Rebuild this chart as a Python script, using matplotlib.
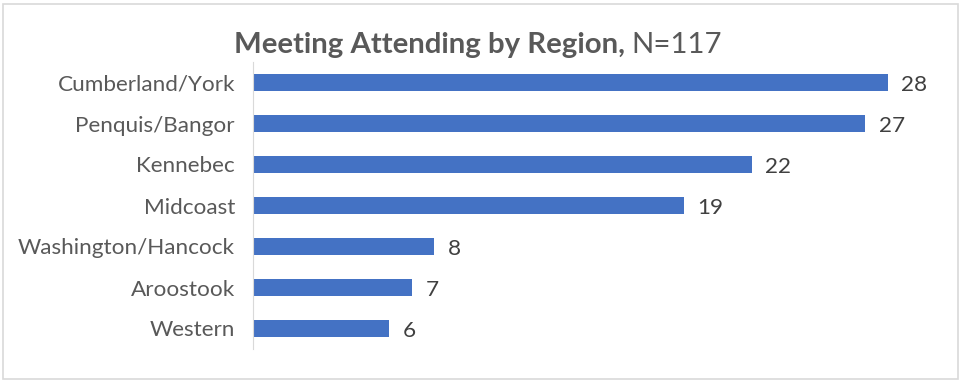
import matplotlib.pyplot as plt
from matplotlib.patches import Rectangle

regions = ["Cumberland/York", "Penquis/Bangor", "Kennebec", "Midcoast",
           "Washington/Hancock", "Aroostook", "Western"]
counts = [28, 27, 22, 19, 8, 7, 6]

plt.rcParams['font.family'] = ['Lato', 'DejaVu Sans']

fig = plt.figure(figsize=(9.63, 3.81), dpi=100)
ax = fig.add_axes([253 / 963, 1 - 349 / 381, 680 / 963, 287 / 381])

y = list(range(len(regions)))
ax.barh(y, counts, height=0.42, color="#4472C4")
ax.set_ylim(len(regions) - 0.5, -0.5)
ax.set_xlim(0, 30)
ax.set_yticks(y)
ax.set_yticklabels(regions, fontsize=16.2, color="#595959")
ax.tick_params(axis="y", length=0, pad=13)
ax.set_xticks([])
for s in ["top", "right", "bottom"]:
    ax.spines[s].set_visible(False)
ax.spines["left"].set_color("#D9D9D9")

for yi, v in zip(y, counts):
    ax.text(v + 0.6, yi + 0.05, str(v), va="center", ha="left", fontsize=16.2, color="#404040")

fig.text(625 / 963, 1 - 45 / 381, "Meeting Attending by Region,", ha="right", va="center",
         fontsize=21.2, fontweight="bold", color="#595959")
fig.text(631 / 963, 1 - 45 / 381, "N=117", ha="left", va="center",
         fontsize=21.2, color="#595959")

fig.patches.append(Rectangle((3 / 963, 2 / 381), 955 / 963, 375 / 381, transform=fig.transFigure,
                             fill=False, edgecolor="#D9D9D9", linewidth=1.2))

fig.savefig("out.png", dpi=100)
